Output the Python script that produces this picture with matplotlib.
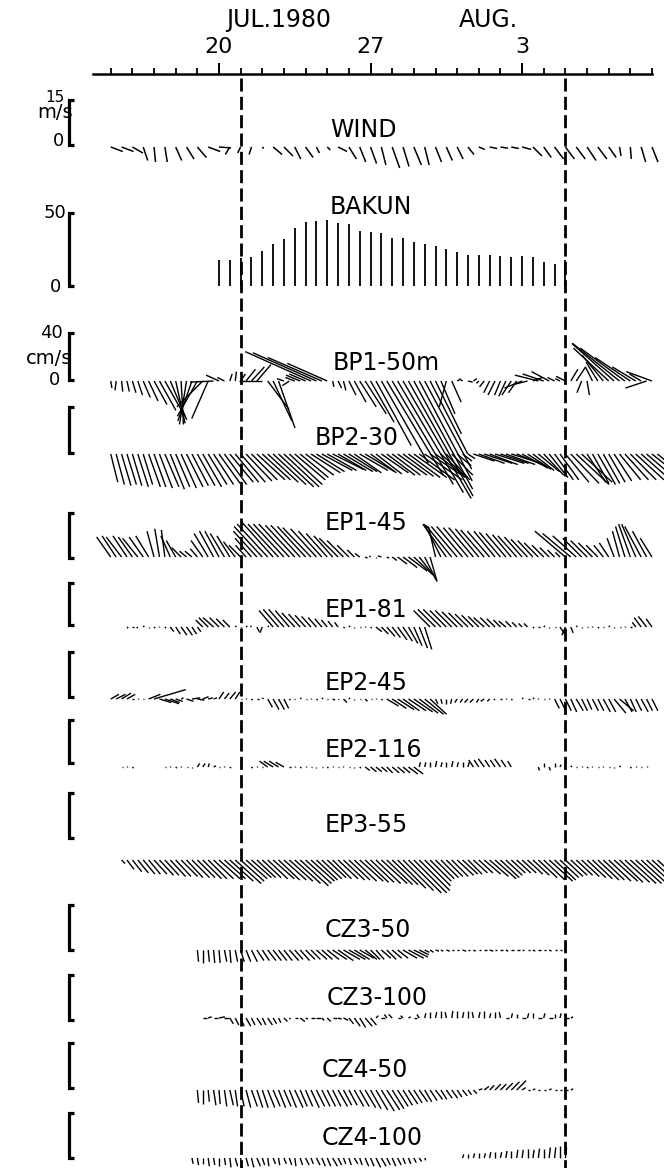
import numpy as np
import matplotlib
matplotlib.use("Agg")
import matplotlib.pyplot as plt
from matplotlib.collections import LineCollection

nan = np.nan

# ---------------- data ----------------
major_days = [20, 27, 34]
major_labels = ["20", "27", "3"]
minor_days = list(range(15, 41))
event_days = [21, 36]

# wind (m/s), every 12 h from day 15.0
wind_t0 = 15.0
wind_u = [4, 4, 3.5, 1.5, 0.5, 0.8, 2, 2.5, 3, 4, 4, -1.5, -1, -0.8, 0.5, 3, 3, 2, 2.5, 1, 1,
          3, 2.5, 2, 2, 1.5, 2.5, 2, 2.5, 1.5, 2, 2, 2, 2, 2, 2.5, 2.5, 2.5, 3, 3, 2.5, 3, 3,
          3, 3, 3, 2.5, 0.5, 0.3, 1.5, 2]
wind_v = [-1.5, -1.5, -2, -4.5, -5, -5, -4.5, -4, -3.5, -1.5, -0.3, -2.5, -2, -2.5, -0.5, -2.5,
          -3, -4, -3.5, -2, -1, -1.5, -4, -5, -5.5, -6, -7, -6.5, -6, -6, -5, -4.5, -4, -2.5,
          -0.8, -0.5, -0.4, -0.5, -0.8, -3, -3.5, -4, -4, -4, -4.5, -4, -3.5, -3, -4, -5, -5]

# Bakun upwelling index, every 12 h from day 20.0
bakun_t0 = 20.0
bakun = [18, 18, 19, 20, 24, 28.5, 32, 39.5, 43.5, 44.7, 45, 43, 42.5, 38, 37, 36, 32.6, 32.6,
         30.3, 29, 27.4, 25.3, 23.5, 21, 21, 21, 20.3, 19.7, 20.3, 19.7, 16.3, 15, 18]

# currents (cm/s), every 6 h
bp1_t0 = 15.0
bp1_u = [1, -1, 1, 2, 3, 4, 6, 8, 11, 14, 17, 14, 8, 2, -6, -12, -17, -22, -14, -20,
         -11, -6, 2, 1, 4, 8, 11, 12, -20, 18, 16, 14, -6, -6, -8, -12, -14, -56, -54, -46,
         -34, 1, 3, 2, 6, 10, 14, 18, 20, 30, 40, 48, 52, 56, 58, 55, 50, 45, 40, 32,
         22, 12, -6, 8, 2, -3, 4, 3, -2, -4, -5, -6, -5, -6, -8, -7, -15, -12, 8, -20,
         -18, -15, -6, -4, -8, 6, 8, -4, 2, -6, -10, -18, -30, -36, -40, -38, -30, -20, -10, -18,
         -22]
bp1_v = [-6, -8, -9, -9, -10, -12, -14, -17, -20, -25, -30, -33, -36, -37, -37, -34, -30, -22, -32, -1,
         5, 3, 6, 8, 6, 10, 12, 14, 0, -24, -34, -40, 2, -4, 3, 5, 6, 25, 24, 20,
         15, -5, -6, -8, -12, -18, -22, -28, -35, -55, -70, -80, -88, -95, -100, -98, -92, -85, -75, -62,
         -45, -28, -22, -18, 1, 2, -1, 2, -2, -5, -10, -12, -12, -13, -12, -10, -6, -3, 3, 5,
         6, 8, 3, 2, 4, 10, 12, -10, -12, 12, 16, 22, 28, 32, 32, 28, 20, 12, 6, -6,
         8]

bp2_t0 = 15.0
bp2_u = [6, 7, 8, 8, 8, 9, 8, 10, 10, 11, 12, 12, 12, 13, 14, 14, 15, 16, 16, 17,
         18, 19, 20, 20, 21, 22, 22, 24, 24, 26, 28, 30, 30, 28, 26, 24, 24, 25, 24, 26,
         25, 26, 24, 25, 24, 23, 24, 25, 22, 22, 23, 24, 24, 25, 26, 27, 28, 30, 32, 30,
         24, 22, 20, 18, 12, 8, 6, 18, 22, 24, 24, 25, 24, 25, 26, 24, 22, 20, 18, 18,
         17, 16, 16, 16, 20, 24, 28, 26, 16, 14, 15, 14, 14, 15, 18, 20, 22, 24, 26, 28,
         30, 30]
bp2_v = [-24, -26, -27, -26, -27, -28, -26, -28, -28, -29, -28, -30, -28, -29, -28, -27, -27, -28, -26, -26,
         -25, -26, -24, -24, -24, -23, -22, -22, -22, -24, -26, -28, -28, -26, -22, -20, -18, -16, -15, -14,
         -14, -13, -14, -15, -15, -16, -14, -15, -16, -17, -16, -18, -18, -18, -19, -20, -20, -22, -22, -20,
         -18, -20, -22, -18, -10, -6, -4, -6, -8, -8, -9, -8, -8, -9, -8, -10, -12, -13, -14, -15,
         -18, -20, -22, -22, -24, -25, -26, -24, -24, -25, -26, -25, -24, -23, -22, -22, -22, -22, -23, -24,
         -24, -24]

ep145_t0 = 15.0
ep145_u = [-12, -12, -13, -12, -12, -13, -12, -11, -6, -4, -3, -8, -8, -8, -6, -6, -6, -10, -12, -12,
           -12, -12, -11, -10, -10, -9, -14, -20, -24, -26, -26, -26, -26, -26, -25, -25, -24, -24, -22, -20,
           -18, -16, -16, -14, -10, -6, -4, 2, -1, 0, -3, 2, 4, 8, 12, 16, 16, 14, 10, 6,
           -6, -14, -20, -22, -22, -22, -21, -21, -20, -20, -19, -18, -18, -17, -16, -16, -15, -14, -13, -12,
           -10, -8, -6, -4, -26, -24, -20, -16, -14, -12, -10, -8, -8, -6, -6, -8, -10, -12, -14, -12,
           -10]
ep145_v = [17, 18, 17, 18, 17, 16, 17, 18, 22, 24, 23, 18, 14, 8, 5, 5, 7, 14, 20, 22,
           22, 20, 18, 13, 10, 10, 16, 22, 26, 28, 29, 28, 28, 28, 27, 27, 26, 25, 24, 22,
           20, 18, 16, 14, 10, 6, 3, -1, 1, -1, 1, -1, -3, -6, -9, -12, -15, -18, -20, -21,
           26, 28, 28, 27, 26, 26, 25, 25, 24, 23, 22, 22, 21, 20, 19, 18, 17, 15, 14, 12,
           10, 8, 6, 4, 22, 20, 18, 16, 14, 12, 10, 10, 12, 16, 22, 26, 28, 28, 26, 22,
           16]

ep181_t0 = 15.75
ep181_u = [1, 1, -1, 1, 0, 1, 0, 1, 3, 4, 5, 5, 4, 3, -6, -8, -9, -8, -7, -6, 1,
           0, 1, -1, 2, -2, 1, -12, -13, -13, -12, -11, -10, -9, -8, -7, -6, -5, -4, -3, 1,
           1, 0, 1, 0, 1, 5, 6, 7, 7, 8, 8, 8, 7, 7, 6, -14, -15, -15, -14, -14,
           -13, -12, -11, -10, -9, -9, -8, -7, -6, -6, -5, -4, -3, -3, 1, 1, 1, 0, 1, 4,
           -3, 2, 1, 0, 1, 0, 1, 1, 1, 0, 1, 0, 1, -3, -6, -7, -5]
ep181_v = [-1, 0, -1, 1, -1, -1, 1, -1, -4, -6, -7, -7, -6, -4, 6, 8, 8, 8, 7, 6, 1,
           -1, 1, 1, -4, -5, 1, 14, 15, 15, 14, 12, 11, 10, 9, 8, 7, 6, 5, 4, -1,
           1, -1, 0, 1, -1, -4, -6, -8, -9, -11, -12, -14, -16, -18, -19, 14, 15, 15, 14, 14,
           13, 12, 11, 10, 9, 8, 8, 7, 6, 5, 5, 4, 3, 3, -1, 0, 1, -1, 0, -6,
           -7, -5, 1, -1, 0, 1, -1, 0, 1, -1, 0, 1, 0, 4, 8, 9, 7]

ep245_t0 = 15.0
ep245_u = [7, 8, 8, 7, 1, 0, 1, 10, 27, 10, 12, 8, 6, 2, 6, 7, 6, 5, 4, 3,
           4, 4, 5, 4, 1, 0, 1, 2, 1, 4, 5, 5, 4, 1, -1, 1, 1, 0, 1, 1,
           1, 2, 1, 3, 1, 0, 1, 2, 1, 0, 1, 10, 12, 14, 14, 15, 16, 16, 16, 14,
           2, 1, 0, -1, -2, -2, -3, -3, -2, -3, -2, -1, 1, 0, 1, 0, 1, 2, 1, 0,
           1, 0, 4, 5, 5, 5, 6, 5, 4, 5, 5, 6, 6, 10, 12, 6, 5, 5, 6, 5,
           5]
ep245_v = [4, 4, 5, 4, 0, 1, 0, 4, 8, -3, -4, -3, -2, 1, -2, 1, -1, 2, 1, 1,
           6, 5, 6, 6, 0, 1, -1, 0, 1, -7, -9, -9, -8, -1, 0, 1, 0, 1, -1, 1,
           0, -1, 0, -3, 1, -1, 0, -2, 0, 1, -1, -6, -8, -9, -10, -10, -11, -12, -13, -13,
           -4, -4, -4, -4, -3, -3, -3, -3, -3, -2, -2, -1, 0, 1, -1, 0, 1, 0, 1, 1,
           0, 1, -8, -10, -10, -11, -10, -10, -9, -10, -10, -11, -11, -12, -10, -11, -11, -10, -11, -10,
           -10]

ep2116_t0 = 15.5
ep2116_u = [1, 0, 1, 0, nan, nan, nan, nan, 1, 0, 1, 0, 1, 0, 2, 2, 1, 2, 1, 0,
            1, 0, 1, 0, 1, 0, 1, -7, -8, -8, -7, 1, 0, 1, 0, 1, 0, 1, 1, 0,
            1, 0, 1, 0, 1, 4, 5, 5, 5, 5, 6, 6, 6, 8, 8, 1, 1, 0, 1, 1,
            0, 1, 1, 0, 1, -4, -4, -5, -4, -4, -5, -4, -3, nan, nan, nan, nan, 1, 0, 1,
            0, 1, 0, 1, 1, 0, 1, 0, 1, 0, 1, 0, 1, 0, 1, 0, 1, 0]
ep2116_v = [0, 1, -1, 0, nan, nan, nan, nan, 0, 1, -1, 1, 0, -1, 3, 3, 3, 1, 0, 1,
            -1, 0, 1, 0, -1, 1, 0, 5, 5, 5, 4, 0, 1, -1, 1, 0, -1, 0, -1, 1,
            0, 1, 0, -1, -1, -3, -4, -4, -4, -5, -5, -5, -5, -6, -6, 4, 4, 4, 5, 4,
            4, 5, 4, 4, 4, 6, 6, 7, 6, 6, 7, 6, 5, nan, nan, nan, nan, -3, 3, -3,
            3, 2, -2, 1, 0, 1, -1, 1, 0, 1, 0, -1, 1, 0, -1, 1, 0, 1]

ep355_t0 = 15.5
ep355_u = [3, 6, 8, 9, 10, 10, 11, 12, 12, 13, 13, 14, 14, 15, 15, 16, 16, 17, 18, 18,
           20, 22, 20, 18, 17, 16, 16, 17, 18, 18, 19, 20, 22, 24, 22, 20, 18, 17, 16, 16,
           17, 18, 18, 19, 20, 20, 20, 21, 22, 22, 22, 24, 26, 28, 28, 26, 22, 18, 16, 15,
           14, 14, 14, 13, 12, 12, 12, 14, 16, 18, 16, 14, 12, 12, 12, 13, 14, 16, 18, 20,
           18, 16, 15, 14, 14, 15, 16, 17, 18, 18, 19, 20, 20, 21, 22, 22, 23, 24, 24, 24]
ep355_v = [-3, -8, -10, -11, -12, -12, -12, -13, -13, -14, -14, -14, -15, -15, -15, -16, -16, -16, -16, -16,
           -18, -20, -18, -16, -15, -15, -15, -16, -16, -17, -17, -18, -20, -22, -20, -18, -17, -16, -15, -16,
           -16, -17, -17, -18, -18, -19, -19, -20, -20, -21, -21, -24, -26, -28, -28, -26, -22, -18, -16, -15,
           -14, -14, -13, -12, -12, -11, -11, -12, -14, -16, -15, -13, -11, -11, -11, -12, -13, -15, -17, -18,
           -17, -15, -14, -13, -13, -14, -15, -16, -17, -17, -18, -18, -19, -19, -20, -20, -21, -22, -22, -22]

cz350_t0 = 19.0
cz350_u = [1, 0, 1, 1, 1, 2, 1, 2, 3, 4, 5, 6, 6, 7, 7, 7, 7, 8, 7, 8,
           8, 8, 9, 9, 10, 12, 13, 14, 14, 13, 12, 10, 8, 7, 8, 8, 8, 9, 12, 13,
           12, 8, 4, 3, 3, 2, 3, 2, 2, 3, 2, 2, 2, 2, 3, 2, 2, 2, 2, 3,
           2, 2, 2, 2, 2, 2, 2, 2, 1]
cz350_v = [-10, -11, -10, -11, -11, -10, -11, -10, -10, -10, -10, -9, -9, -9, -9, -9, -9, -9, -8, -9,
           -8, -8, -8, -8, -8, -8, -9, -8, -8, -8, -7, -8, -8, -8, -7, -8, -7, -7, -7, -7,
           -6, -4, -2, -2, -1, -1, -1, 0, 0, -1, 0, -1, 0, 0, -1, 0, 0, -1, 0, 0,
           0, 0, -1, 0, 0, -1, 0, 0, -2]

cz3100_t0 = 19.25
cz3100_u = [4, 3, 4, 5, 4, 3, 3, 3, 4, 3, 4, 3, 4, 3, 2, 3, 1, 3, 4, 2,
            3, 4, 2, 3, 4, 3, 4, 4, 5, 5, 6, 5, 2, 3, -2, -3, 3, -2, 2, 3,
            -2, 1, 0, 1, 0, -1, 1, 0, 1, 0, -1, 1, 0, 1, 0, -1, 3, 1, 0, 3,
            1, 0, 3, 1, 3, 0, 1, 3, 2]
cz3100_v = [0, 1, 0, 1, 0, -5, -6, -7, -7, -6, -6, -6, -6, -5, -4, -3, -1, 0, -3, -1,
            0, 0, -2, -3, 0, -1, -2, -5, -7, -8, -7, -6, 2, 0, 3, 3, 0, 2, 1, 0,
            3, 4, 5, 5, 6, 5, 6, 6, 5, 6, 5, 5, 6, 4, 5, 5, 0, 4, 3, 0,
            4, 4, 0, 4, 0, 3, 4, 0, 1]

cz450_t0 = 19.0
cz450_u = [1, 0, 1, 2, 1, 2, 3, 2, 3, 4, 5, 5, 5, 6, 6, 6, 6, 6, 7, 6,
           6, 7, 7, 7, 7, 7, 8, 7, 7, 8, 8, 9, 9, 10, 11, 11, 10, 9, 8, 8,
           7, 7, 6, 6, 6, 5, 5, 5, 4, 4, 3, 3, 3, 4, 4, 5, 5, 6, 7, 8,
           3, 2, 2, 1, 2, 2, 2, 2, 2, 2]
cz450_v = [-11, -12, -10, -13, -12, -14, -13, -14, -14, -15, -14, -15, -15, -15, -14, -15, -14, -15, -15, -14,
           -14, -15, -14, -14, -14, -14, -14, -13, -13, -14, -14, -15, -16, -17, -18, -17, -16, -14, -13, -12,
           -11, -10, -10, -9, -8, -8, -7, -7, -6, -5, -4, -3, 1, 3, 4, 5, 5, 6, 7, 8,
           2, 0, 1, 0, 0, 1, 0, 0, 0, 1]

cz4100_t0 = 18.75
cz4100_u = [1, 1, 0, 1, 1, 0, 1, 1, 2, 1, 2, 2, 3, 2, 1, 2, 1, 2, 2, 1, 2,
            3, 2, 3, 3, 3, 4, 3, 2, 2, 3, 2, 3, 3, 4, 4, 3, 3, 3, 2, 2,
            2, 2, 1, nan, nan, nan, nan, nan, nan, 1, 0, 1, 0, 1, 1, 0, 1, 1, 0, 1,
            1, 0, 1, 1, 0, 1, 1, 0, 1]
cz4100_v = [-5, -6, -5, -7, -6, -7, -6, -8, -7, -8, -7, -8, -7, -6, -7, -5, -6, -5, -6, -7, -6,
            -6, -5, -6, -7, -7, -7, -6, -5, -6, -5, -6, -7, -7, -8, -7, -6, -7, -6, -5, -5,
            -4, -3, -2, nan, nan, nan, nan, nan, nan, 3, 3, 4, 4, 4, 5, 5, 5, 6, 6, 7,
            7, 8, 7, 8, 8, 9, 9, 10, 9]

# ---------------- layout ----------------
W, H, DPI = 664, 1168, 100
PX_DAY = 21.65          # pixels per day
X_DAY20 = 219           # pixel column of 20 July
AXIS_Y = 74
CUR_K = 47 / 40         # px per cm/s
WIND_K = 45 / 15        # px per m/s
BAKUN_K = 73 / 50       # px per index unit

fig = plt.figure(figsize=(W / DPI, H / DPI), dpi=DPI)
ax = fig.add_axes([0, 0, 1, 1])
x_left = 20 - X_DAY20 / PX_DAY
ax.set_xlim(x_left, x_left + W / PX_DAY)
ax.set_ylim(H, 0)
FONT = "DejaVu Sans"
LABEL_FS = 17


def px2day(px):
    return x_left + px / PX_DAY


def sticks(t0, u, v, base, k, step=0.25, lw=1.0):
    u = np.asarray(u, float)
    v = np.asarray(v, float)
    t = t0 + step * np.arange(len(u))
    ok = np.isfinite(u) & np.isfinite(v)
    t, u, v = t[ok], u[ok], v[ok]
    x1 = t + u * k / PX_DAY
    y1 = base - v * k
    segs = np.stack([np.column_stack([t, np.full_like(t, base)]),
                     np.column_stack([x1, y1])], axis=1)
    ax.add_collection(LineCollection(segs, colors="black", linewidths=lw,
                                     capstyle="butt"))


def bracket(top, bottom, x_px=69, serif=5, lw=2.3):
    xb, xs = px2day(x_px), px2day(x_px + serif)
    ax.plot([xs, xb, xb, xs], [top, top, bottom, bottom], color="black",
            lw=lw, solid_joinstyle="miter", solid_capstyle="butt")


def label(text, x_px, y):
    ax.text(px2day(x_px), y, text, fontsize=LABEL_FS, family=FONT, ha="left",
            va="center", color="black")


def small(text, x_px, y, fs=12, ha="right"):
    ax.text(px2day(x_px), y, text, fontsize=fs, family=FONT, ha=ha,
            va="center", color="black")


# time axis on top
for s in ["left", "right", "bottom"]:
    ax.spines[s].set_visible(False)
ax.spines["top"].set_position(("data", AXIS_Y))
ax.spines["top"].set_bounds(14.2, 40)
ax.spines["top"].set_linewidth(1.8)
ax.xaxis.set_ticks_position("top")
ax.set_xticks(major_days)
ax.set_xticklabels(major_labels, family=FONT)
ax.set_xticks([d for d in minor_days if d not in major_days], minor=True)
ax.tick_params(axis="x", which="major", length=8, width=1.4, direction="out",
               labelsize=16, pad=4)
ax.tick_params(axis="x", which="minor", length=4, width=1.3, direction="out")
ax.set_yticks([])
ax.text(22.75, 20, "JUL.1980", fontsize=17, family=FONT, ha="center", va="center")
ax.text(32.45, 20, "AUG.", fontsize=17, family=FONT, ha="center", va="center")

# event lines
for d in event_days:
    ax.plot([d, d], [AXIS_Y + 4, H], color="black", lw=2.0, dashes=(4.7, 1.9))

# WIND
bracket(100, 145)
small("15", 65, 97, fs=11)
small("m/s", 73, 112, fs=14)
small("0", 64, 141, fs=13)
label("WIND", 330, 130)
sticks(wind_t0, wind_u, wind_v, 147, WIND_K, step=0.5, lw=1.1)

# BAKUN
bracket(213, 286)
small("50", 66, 213, fs=13)
small("0", 61, 287, fs=13)
label("BAKUN", 330, 207)
tb = bakun_t0 + 0.5 * np.arange(len(bakun))
ax.vlines(tb, 286, 286 - np.asarray(bakun) * BAKUN_K, color="black", lw=1.3)

# currents
bracket(333, 380)
small("40", 63, 333, fs=13)
small("cm/s", 72, 358, fs=14)
small("0", 60, 380, fs=13)

panels = [
    ("BP1-50m", 333, 363, 381, bp1_t0, bp1_u, bp1_v, None),
    ("BP2-30", 315, 438, 454, bp2_t0, bp2_u, bp2_v, (407, 453)),
    ("EP1-45", 325, 523, 557, ep145_t0, ep145_u, ep145_v, (513, 558)),
    ("EP1-81", 325, 610, 627, ep181_t0, ep181_u, ep181_v, (583, 625)),
    ("EP2-45", 325, 683, 699, ep245_t0, ep245_u, ep245_v, (652, 697)),
    ("EP2-116", 325, 750, 767, ep2116_t0, ep2116_u, ep2116_v, (720, 763)),
    ("EP3-55", 325, 825, 860, ep355_t0, ep355_u, ep355_v, (793, 838)),
    ("CZ3-50", 325, 930, 950, cz350_t0, cz350_u, cz350_v, (905, 950)),
    ("CZ3-100", 327, 998, 1018, cz3100_t0, cz3100_u, cz3100_v, (975, 1020)),
    ("CZ4-50", 322, 1070, 1090, cz450_t0, cz450_u, cz450_v, (1043, 1088)),
    ("CZ4-100", 322, 1138, 1158, cz4100_t0, cz4100_u, cz4100_v, (1113, 1158)),
]
for name, lx, ly, base, t0, u, v, br in panels:
    label(name, lx, ly)
    sticks(t0, u, v, base, CUR_K)
    if br is not None:
        bracket(*br)

fig.savefig("out.png", dpi=DPI, facecolor="white")
